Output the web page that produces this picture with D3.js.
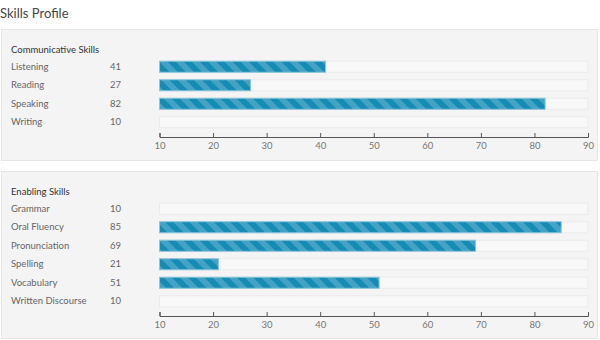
<!DOCTYPE html>
<html>
<head>
<meta charset="utf-8">
<script src="https://cdn.jsdelivr.net/npm/d3@7"></script>
<style>
  html, body { margin: 0; padding: 0; background: #fff; }
  svg { display: block; font-family: Lato, "Open Sans", sans-serif; }
</style>
</head>
<body>
<svg id="chart" width="600" height="340"></svg>
<script>
// Skill groups and scores
const communicativeSkills = ["Listening", "Reading", "Speaking", "Writing"];
const communicativeScores = [41, 27, 82, 10];
const enablingSkills = ["Grammar", "Oral Fluency", "Pronunciation", "Spelling", "Vocabulary", "Written Discourse"];
const enablingScores = [10, 85, 69, 21, 51, 10];
const tickValues = [10, 20, 30, 40, 50, 60, 70, 80, 90];

const svg = d3.select("#chart");

// Diagonal stripe fill for the score bars
const defs = svg.append("defs");
const pat = defs.append("pattern")
  .attr("id", "stripes")
  .attr("patternUnits", "userSpaceOnUse")
  .attr("width", 11.5).attr("height", 11.5)
  .attr("patternTransform", "rotate(-45)");
pat.append("rect").attr("width", 11.5).attr("height", 11.5).attr("fill", "#168bb4");
pat.append("rect").attr("width", 5.75).attr("height", 11.5).attr("fill", "#44a3c5");

svg.append("text")
  .attr("x", 0).attr("y", 18)
  .attr("font-size", 13)
  .attr("fill", "#444")
  .text("Skills Profile");

const x = d3.scaleLinear().domain([10, 90]).range([159.5, 588]);

function panel(top, height, title, names, scores) {
  const g = svg.append("g");
  g.append("rect")
    .attr("x", 1.5).attr("y", top + 0.5)
    .attr("width", 596).attr("height", height)
    .attr("fill", "#f4f4f4").attr("stroke", "#e6e6e6");

  g.append("text")
    .attr("x", 11).attr("y", top + 24)
    .attr("font-size", 9.5).attr("fill", "#333")
    .text(title);

  const y = d3.scaleBand()
    .domain(names)
    .range([top + 28, top + 28 + names.length * 18.5])
    .paddingInner(0.4).paddingOuter(0.2);

  const rows = g.selectAll(".row").data(names.map((n, i) => ({ name: n, score: scores[i] })))
    .join("g").attr("class", "row");

  rows.append("text")
    .attr("x", 11).attr("y", d => y(d.name) + y.bandwidth() / 2 + 3.5)
    .attr("font-size", 9.5).attr("fill", "#666")
    .text(d => d.name);

  rows.append("text")
    .attr("x", 110).attr("y", d => y(d.name) + y.bandwidth() / 2 + 3.5)
    .attr("font-size", 9.5).attr("fill", "#666")
    .text(d => d.score);

  rows.append("rect")
    .attr("x", x(10)).attr("y", d => y(d.name) + 0.5)
    .attr("width", x(90) - x(10)).attr("height", y.bandwidth())
    .attr("fill", "#f8f8f8").attr("stroke", "#ebebeb");

  rows.filter(d => d.score > 10).append("rect")
    .attr("x", x(10)).attr("y", d => y(d.name) + 0.5)
    .attr("width", d => x(d.score) - x(10)).attr("height", y.bandwidth())
    .attr("fill", "url(#stripes)").attr("stroke", "#8cc6dc").attr("stroke-width", 1);

  const axisY = y.range()[1] + 6;
  const ax = g.append("g").attr("transform", `translate(0,${axisY})`);
  ax.call(d3.axisTop(x).tickValues(d3.range(15, 90, 10)).tickSize(2).tickFormat(""));
  ax.call(d3.axisTop(x).tickValues(tickValues).tickSize(4).tickSizeOuter(4).tickFormat(""));
  ax.selectAll("path, line").attr("stroke", "#555");
  ax.selectAll("text").remove();

  const lab = g.append("g").attr("transform", `translate(0,${axisY})`);
  lab.call(d3.axisBottom(x).tickValues(tickValues).tickSize(0).tickPadding(5));
  lab.select(".domain").remove();
  lab.selectAll("text").attr("font-size", 9.5).attr("fill", "#777")
    .attr("font-family", "Lato, 'Open Sans', sans-serif");
}

panel(29, 131, "Communicative Skills", communicativeSkills, communicativeScores);
panel(171, 167, "Enabling Skills", enablingSkills, enablingScores);
</script>
</body>
</html>
